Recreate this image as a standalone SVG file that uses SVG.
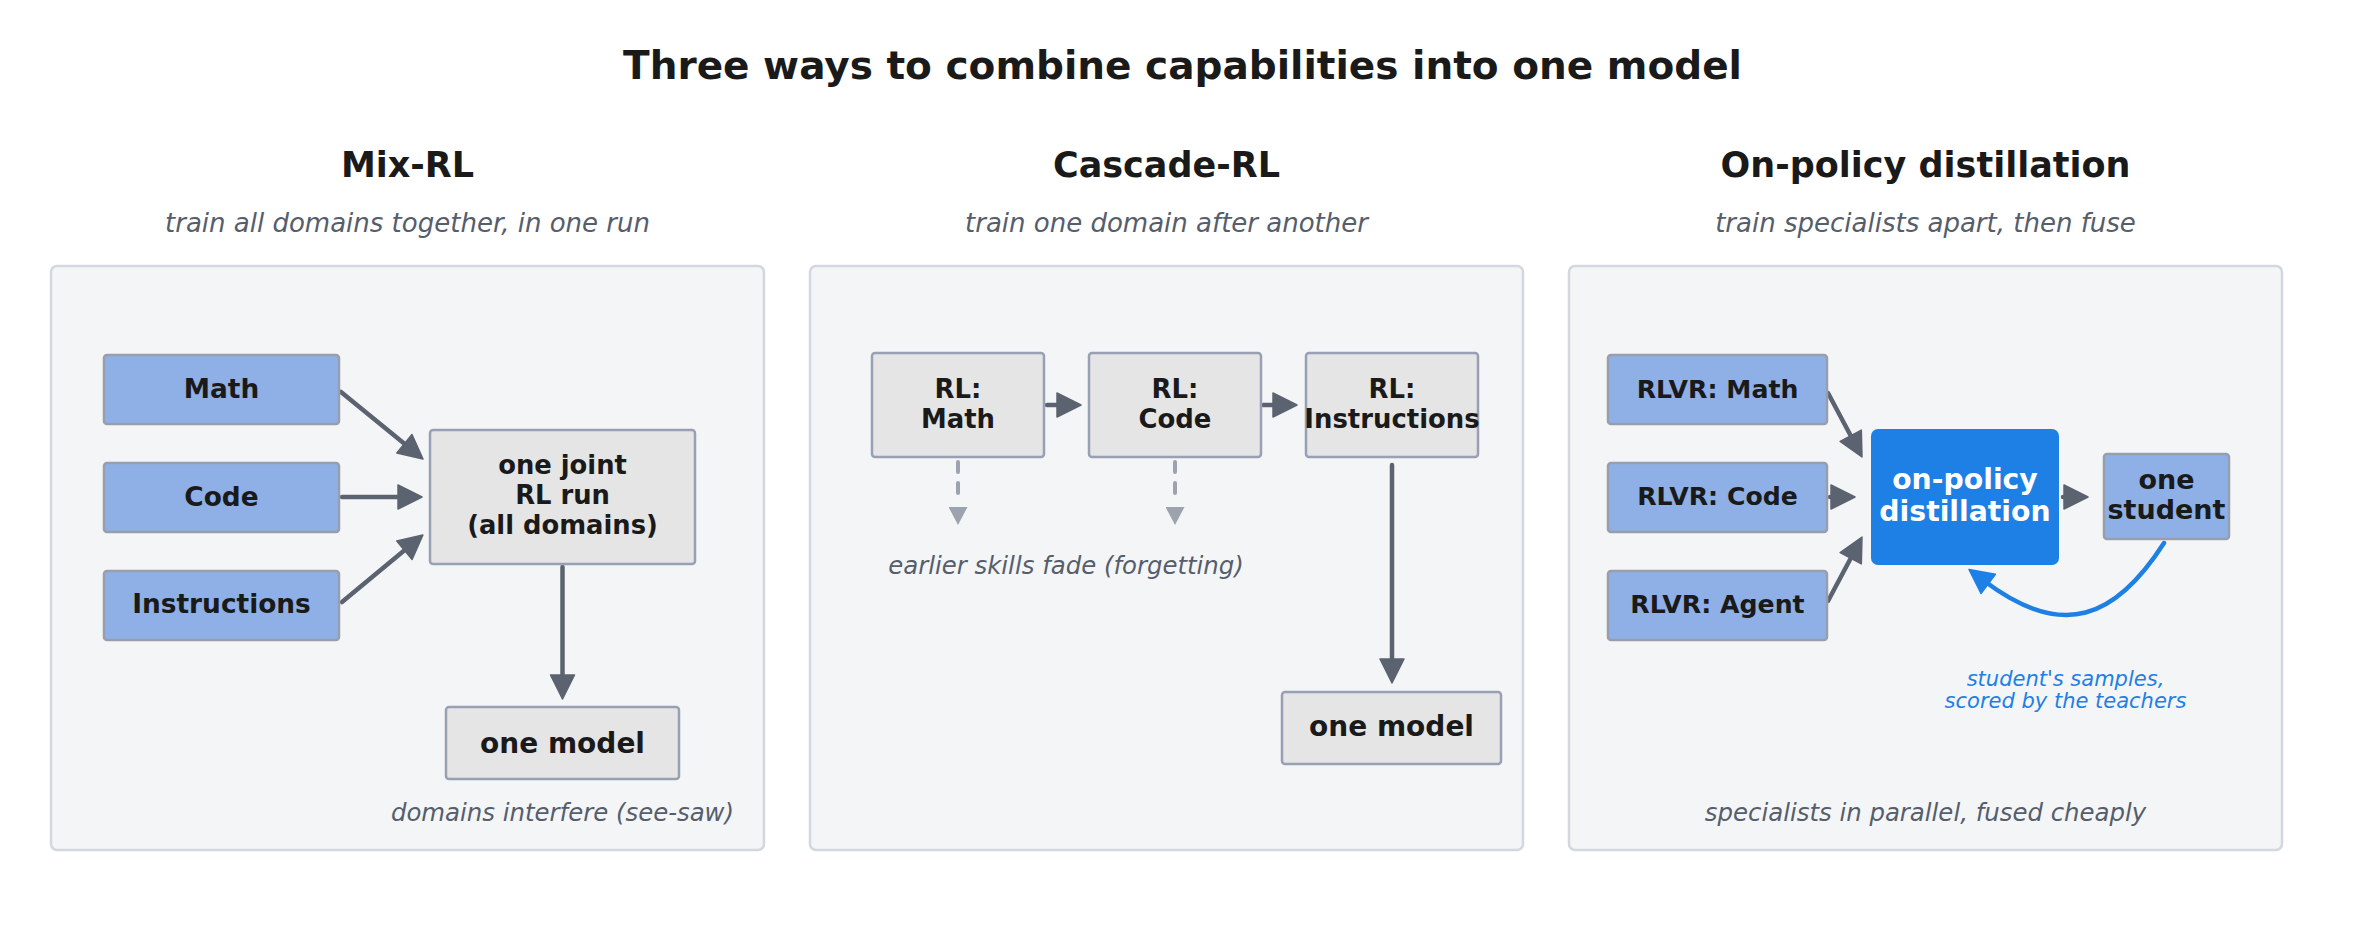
<svg xmlns="http://www.w3.org/2000/svg" width="2365" height="933" viewBox="0 0 2365 933">
<defs>
<style>
.title{font-family:"DejaVu Sans",sans-serif;font-weight:bold;font-size:39px;fill:#1a1a1a;text-anchor:middle}
.head{font-family:"DejaVu Sans",sans-serif;font-weight:bold;font-size:35px;fill:#1a1a1a;text-anchor:middle}
.sub{font-family:"DejaVu Sans",sans-serif;font-style:italic;font-size:26px;fill:#565d6b;text-anchor:middle}
.note{font-family:"DejaVu Sans",sans-serif;font-style:italic;font-size:24.4px;fill:#565d6b;text-anchor:middle}
.bnote{font-family:"DejaVu Sans",sans-serif;font-style:italic;font-size:21px;fill:#1e80e5;text-anchor:middle}
.panel{fill:#f4f5f7;stroke:#d3d7de;stroke-width:2.5}
.blue{fill:#8eb0e6;stroke:#979eac;stroke-width:2.5}
.gray{fill:#e5e5e5;stroke:#98a1b3;stroke-width:2.5}
.hot{fill:#1e80e5}
.lbl{font-family:"DejaVu Sans",sans-serif;font-weight:bold;fill:#1a1a1a;text-anchor:middle}
.wl{font-family:"DejaVu Sans",sans-serif;font-weight:bold;fill:#ffffff;text-anchor:middle}
.conn{fill:none;stroke:#5c6370;stroke-width:4.5;stroke-linecap:round;marker-end:url(#ah)}
.dash{fill:none;stroke:#9ca3af;stroke-width:4;stroke-linecap:round;stroke-dasharray:10 11;marker-end:url(#ahd)}
.loop{fill:none;stroke:#1e80e5;stroke-width:4.5;stroke-linecap:round;marker-end:url(#ahb)}
</style>
<marker id="ah" viewBox="-2 -2 28 28" markerWidth="28" markerHeight="28" markerUnits="userSpaceOnUse" refX="4" refY="12" orient="auto"><path d="M0,0 L24,12 L0,24 z" fill="#5c6370" stroke="#5c6370" stroke-width="1.5" stroke-linejoin="round"/></marker>
<marker id="ahb" viewBox="-2 -2 28 28" markerWidth="28" markerHeight="28" markerUnits="userSpaceOnUse" refX="4" refY="12" orient="auto"><path d="M0,0 L24,12 L0,24 z" fill="#1e80e5" stroke="#1e80e5" stroke-width="1.5" stroke-linejoin="round"/></marker>
<marker id="ahd" viewBox="0 0 19 19" markerWidth="19" markerHeight="19" markerUnits="userSpaceOnUse" refX="-10" refY="9.5" orient="auto"><path d="M0,0 L18,9.5 L0,19 z" fill="#9ca3af"/></marker>
</defs>
<rect width="2365" height="933" fill="#ffffff"/>
<text class="title" x="1182.5" y="78.5">Three ways to combine capabilities into one model</text>

<g id="panel-mix">
<rect class="panel" x="51" y="266" width="713" height="584" rx="6"/>
<text class="head" x="407.5" y="176.5">Mix-RL</text>
<text class="sub" x="407.5" y="231.5">train all domains together, in one run</text>
<text class="note" x="562.5" y="821">domains interfere (see-saw)</text>
</g>
<g id="panel-cascade">
<rect class="panel" x="810" y="266" width="713" height="584" rx="6"/>
<text class="head" x="1166.5" y="176.5">Cascade-RL</text>
<text class="sub" x="1166.5" y="231.5">train one domain after another</text>
<text class="note" x="1066" y="574">earlier skills fade (forgetting)</text>
</g>
<g id="panel-opd">
<rect class="panel" x="1569" y="266" width="713" height="584" rx="6"/>
<text class="head" x="1925.5" y="176.5">On-policy distillation</text>
<text class="sub" x="1925.5" y="231.5">train specialists apart, then fuse</text>
<text class="note" x="1925.5" y="821">specialists in parallel, fused cheaply</text>
<text class="bnote" x="2065.5" y="686">student's samples,</text>
<text class="bnote" x="2065.5" y="708">scored by the teachers</text>
</g>

<g id="connectors">
<path class="conn" d="M341 392 L407.5 446.3"/>
<path class="conn" d="M342 497 L402 497"/>
<path class="conn" d="M342 602 L407.5 547.7"/>
<path class="conn" d="M562.5 567 L562.5 679"/>
<path class="conn" d="M1047 405 L1061 405"/>
<path class="conn" d="M1263 405 L1277 405"/>
<path class="conn" d="M1392 465 L1392 663"/>
<path class="dash" d="M958 462 L958 497"/>
<path class="dash" d="M1175 462 L1175 497"/>
<path class="conn" d="M1828 393 L1852.6 439.3"/>
<path class="conn" d="M1830 497 L1835 497"/>
<path class="conn" d="M1828 601 L1852.6 554.7"/>
<path class="conn" d="M2063 497 L2068 497"/>
<path class="loop" d="M2164 543 C2115.4 618.6 2063 640 1985 581.5"/>
</g>

<g id="mix-math"><rect class="blue" x="104" y="355" width="235" height="69" rx="3"/><text class="lbl" font-size="26.4" x="221.5" y="398">Math</text></g>
<g id="mix-code"><rect class="blue" x="104" y="463" width="235" height="69" rx="3"/><text class="lbl" font-size="26.4" x="221.5" y="505.5">Code</text></g>
<g id="mix-instr"><rect class="blue" x="104" y="571" width="235" height="69" rx="3"/><text class="lbl" font-size="26.4" x="221.5" y="613">Instructions</text></g>
<g id="mix-joint"><rect class="gray" x="430" y="430" width="265" height="134" rx="3"/>
<text class="lbl" font-size="25.8" x="562.5" y="473.5">one joint</text>
<text class="lbl" font-size="25.8" x="562.5" y="503.5">RL run</text>
<text class="lbl" font-size="25.8" x="562.5" y="533.5">(all domains)</text></g>
<g id="mix-model"><rect class="gray" x="446" y="707" width="233" height="72" rx="3"/><text class="lbl" font-size="28" x="562.5" y="752.5">one model</text></g>

<g id="cas-math"><rect class="gray" x="872" y="353" width="172" height="104" rx="3"/>
<text class="lbl" font-size="25.9" x="958" y="397.5">RL:</text><text class="lbl" font-size="25.9" x="958" y="427.5">Math</text></g>
<g id="cas-code"><rect class="gray" x="1089" y="353" width="172" height="104" rx="3"/>
<text class="lbl" font-size="25.9" x="1175" y="397.5">RL:</text><text class="lbl" font-size="25.9" x="1175" y="427.5">Code</text></g>
<g id="cas-instr"><rect class="gray" x="1306" y="353" width="172" height="104" rx="3"/>
<text class="lbl" font-size="25.9" x="1392" y="397.5">RL:</text><text class="lbl" font-size="25.9" x="1392" y="427.5">Instructions</text></g>
<g id="cas-model"><rect class="gray" x="1282" y="692" width="219" height="72" rx="3"/><text class="lbl" font-size="28" x="1391.5" y="736">one model</text></g>

<g id="opd-math"><rect class="blue" x="1608" y="355" width="219" height="69" rx="3"/><text class="lbl" font-size="25.2" x="1717.5" y="398">RLVR: Math</text></g>
<g id="opd-code"><rect class="blue" x="1608" y="463" width="219" height="69" rx="3"/><text class="lbl" font-size="25.2" x="1717.5" y="504.5">RLVR: Code</text></g>
<g id="opd-agent"><rect class="blue" x="1608" y="571" width="219" height="69" rx="3"/><text class="lbl" font-size="25.2" x="1717.5" y="612.5">RLVR: Agent</text></g>
<g id="opd-distill"><rect class="hot" x="1871" y="429" width="188" height="136" rx="7"/>
<text class="wl" font-size="28.3" x="1965" y="489">on-policy</text><text class="wl" font-size="28.3" x="1965" y="521">distillation</text></g>
<g id="opd-student"><rect class="blue" x="2104" y="454" width="125" height="85" rx="3"/>
<text class="lbl" font-size="27" x="2166.5" y="488.5">one</text><text class="lbl" font-size="27" x="2166.5" y="518.5">student</text></g>
</svg>
